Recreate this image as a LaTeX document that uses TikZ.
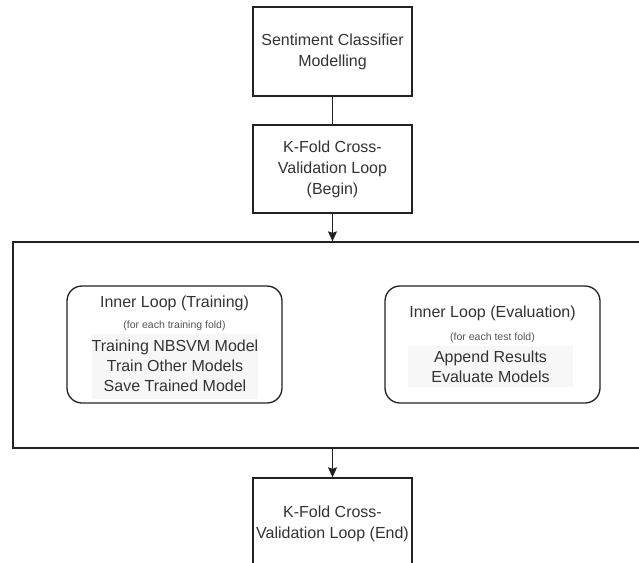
\documentclass[tikz,border=0pt]{standalone}
\usepackage{fontspec}
\setmainfont{Liberation Sans}
\usetikzlibrary{arrows.meta}
\definecolor{linec}{HTML}{222222}
\definecolor{txtc}{HTML}{333333}
\definecolor{subc}{HTML}{555555}
\definecolor{bgc}{HTML}{F7F7F7}
\tikzset{
  stepbox/.style={draw=linec, line width=1.3pt, fill=white, inner sep=0pt, align=center,
    text=txtc, font=\fontsize{16}{21}\selectfont},
  roundbox/.style={draw=linec, line width=1.3pt, rounded corners=15pt, fill=white, inner sep=0pt},
  title/.style={text=txtc, font=\fontsize{16}{20}\selectfont, inner sep=0pt, align=center},
  subtitle/.style={text=subc, font=\fontsize{10.5}{12}\selectfont, inner sep=0pt, align=center},
  items/.style={fill=bgc, text=txtc, font=\fontsize{16}{20}\selectfont, inner sep=0pt, align=center},
  conn/.style={draw=linec, line width=1.3pt, -{Stealth[length=10pt, width=9pt, inset=1.5pt]}},
  plain/.style={draw=linec, line width=1.3pt}
}
\begin{document}
\begin{tikzpicture}[x=1pt, y=-1pt]
\useasboundingbox (0,0) rectangle (639,562);
\clip (0,0) rectangle (639,562);
\fill[white] (0,0) rectangle (639,562);
% top boxes
\node[stepbox, minimum width=159pt, minimum height=89pt] (sc) at (332.5,51.5) {Sentiment Classifier\\Modelling};
\node[stepbox, minimum width=159pt, minimum height=88pt] (kb) at (332.5,169) {K-Fold Cross-\\Validation Loop\\(Begin)};
\draw[plain] (sc.south) -- (kb.north);
% big loop rectangle
\node[draw=linec, line width=1.3pt, inner sep=0pt, minimum width=660pt, minimum height=206pt] (loop) at (343,345) {};
\draw[conn] (kb.south) -- (kb.south |- loop.north);
% inner loops
\node[roundbox, minimum width=215pt, minimum height=117pt] (tr) at (174.5,344.5) {};
\node[title] (trt) at (174.5,303) {Inner Loop (Training)};
\node[subtitle] (trs) at (174.5,326) {(for each training fold)};
\node[items, minimum width=166pt, minimum height=65pt] (tri) at (175,366) {Training NBSVM Model\\Train Other Models\\Save Trained Model};
\node[roundbox, minimum width=215pt, minimum height=117pt] (ev) at (492.5,344.5) {};
\node[title] (evt) at (492.5,313) {Inner Loop (Evaluation)};
\node[subtitle] (evs) at (492.5,338) {(for each test fold)};
\node[items, minimum width=165pt, minimum height=41pt] (evi) at (490.5,366.5) {Append Results\\Evaluate Models};
% bottom box
\node[stepbox, minimum width=159pt, minimum height=92pt] (ke) at (332.5,524) {K-Fold Cross-\\Validation Loop (End)};
\draw[conn] (ke.north |- loop.south) -- (ke.north);
\end{tikzpicture}
\end{document}
